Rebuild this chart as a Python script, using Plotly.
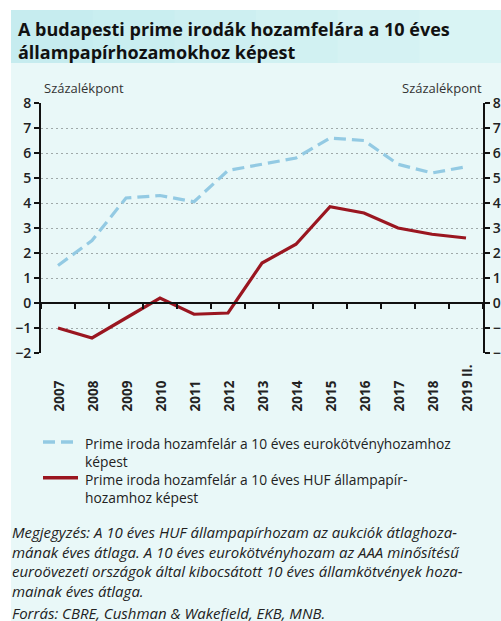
import plotly.graph_objects as go

years = ["2007", "2008", "2009", "2010", "2011", "2012", "2013", "2014",
         "2015", "2016", "2017", "2018", "2019 II."]
euro_spread = [1.5, 2.5, 4.2, 4.3, 4.05, 5.3, 5.55, 5.8, 6.6, 6.5, 5.55, 5.2, 5.45]
huf_spread = [-1.0, -1.4, -0.6, 0.2, -0.45, -0.4, 1.6, 2.35, 3.85, 3.6, 3.0, 2.75, 2.6]

y_ticks = [-2, -1, 0, 1, 2, 3, 4, 5, 6, 7, 8]
y_range = [-2, 8]

title_text = "A budapesti prime irodák hozamfelára a 10 éves<br>állampapírhozamokhoz képest"
axis_unit = "Százalékpont"
legend_euro = "Prime iroda hozamfelár a 10 éves eurokötvényhozamhoz<br>képest"
legend_huf = "Prime iroda hozamfelár a 10 éves HUF állampapír-<br>hozamhoz képest"
note_text = ("Megjegyzés: A 10 éves HUF állampapírhozam az aukciók átlaghoza-<br>"
             "mának éves átlaga. A 10 éves eurokötvényhozam az AAA minősítésű<br>"
             "euroövezeti országok által kibocsátott 10 éves államkötvények hoza-<br>"
             "mainak éves átlaga.")
source_line = "Forrás: CBRE, Cushman & Wakefield, EKB, MNB."

W, H = 501, 621
L, R, T, B = 41, 18, 103, 268
PW, PH = W - L - R, H - T - B

def px_x(px):
    return (px - L) / PW

def px_y(py):
    return (H - B - py) / PH

FONT = "Open Sans"
BG = "#e9f8f8"
EURO_COLOR = "#93cae3"
HUF_COLOR = "#9a1620"
EURO_DASH = "12px,6px"
LEG_SIZE = 13.8
LEG_LINE = LEG_SIZE * 1.3

fig = go.Figure()
fig.add_trace(go.Scatter(
    x=years, y=euro_spread, mode="lines", name=legend_euro.replace("<br>", " "),
    line=dict(color=EURO_COLOR, width=3.2, dash=EURO_DASH), showlegend=False,
))
fig.add_trace(go.Scatter(
    x=years, y=huf_spread, mode="lines", name=legend_huf.replace("<br>", " "),
    line=dict(color=HUF_COLOR, width=3.2), showlegend=False,
))
# invisible copy on the right axis so that it is drawn
fig.add_trace(go.Scatter(
    x=years, y=huf_spread, mode="lines", yaxis="y2", showlegend=False,
    hoverinfo="skip", line=dict(color="rgba(0,0,0,0)", width=0),
))

shapes = [
    dict(type="rect", xref="paper", yref="paper", layer="below",
         x0=px_x(11), x1=px_x(W + 5), y0=px_y(H + 5), y1=px_y(10),
         fillcolor=BG, line=dict(width=0)),
]
band_cols = ["#c6ecef", "#c9eef0", "#cdeff1", "#d1f1f2", "#d5f2f3", "#d9f4f4"]
n = len(band_cols)
for i, c in enumerate(band_cols):
    x0 = 11 + (W - 11) * i / n
    x1 = 11 + (W - 11) * (i + 1) / n + 1
    shapes.append(dict(type="rect", xref="paper", yref="paper", layer="below",
                       x0=px_x(x0), x1=px_x(x1), y0=px_y(63), y1=px_y(10),
                       fillcolor=c, line=dict(width=0)))

annotations = []
# title
annotations.append(dict(x=px_x(16), y=px_y(15), xref="paper", yref="paper",
                        text="<b>%s</b>" % title_text, showarrow=False, align="left",
                        xanchor="left", yanchor="top",
                        font=dict(family=FONT, size=18, color="#111111")))

# legend: one text block, sample lines beside the first line of each entry
leg_top = 432
first_line = leg_top + LEG_LINE / 2 + 1
for k, (col, dash) in enumerate([(EURO_COLOR, EURO_DASH), (HUF_COLOR, "solid")]):
    yy = first_line + 2 * k * LEG_LINE
    shapes.append(dict(type="line", xref="paper", yref="paper",
                       x0=px_x(43), x1=px_x(78), y0=px_y(yy), y1=px_y(yy),
                       line=dict(color=col, width=3.5, dash=dash)))
annotations.append(dict(x=px_x(83), y=px_y(leg_top), xref="paper", yref="paper",
                        text=legend_euro + "<br>" + legend_huf, showarrow=False,
                        align="left", xanchor="left", yanchor="top",
                        font=dict(family=FONT, size=LEG_SIZE, color="#222222")))

for i, yr in enumerate(years):
    annotations.append(dict(
        x=i, xref="x", y=px_y(414), yref="paper", text="<b>%s</b>" % yr,
        textangle=-90, showarrow=False, xanchor="center", yanchor="bottom",
        font=dict(family=FONT, size=13.5, color="#222222"),
    ))
annotations.append(dict(x=px_x(42), y=px_y(88), xref="paper", yref="paper",
                        text=axis_unit, showarrow=False, xanchor="left", yanchor="middle",
                        font=dict(family=FONT, size=13, color="#333333")))
annotations.append(dict(x=px_x(484), y=px_y(88), xref="paper", yref="paper",
                        text=axis_unit, showarrow=False, xanchor="right", yanchor="middle",
                        font=dict(family=FONT, size=13, color="#333333")))
annotations.append(dict(x=px_x(10), y=px_y(520), xref="paper", yref="paper",
                        text="<i>%s</i>" % note_text, showarrow=False, align="left",
                        xanchor="left", yanchor="top",
                        font=dict(family=FONT, size=15, color="#222222")))
annotations.append(dict(x=px_x(10), y=px_y(613), xref="paper", yref="paper",
                        text="<i>%s</i>" % source_line, showarrow=False,
                        xanchor="left", yanchor="middle",
                        font=dict(family=FONT, size=15, color="#222222")))

zero_pos = (0 - y_range[0]) / (y_range[1] - y_range[0])

yaxis_common = dict(
    range=y_range, tickvals=y_ticks, showline=True, linecolor="#111111", linewidth=2,
    ticks="outside", ticklen=5, tickwidth=2, tickcolor="#111111",
    tickfont=dict(family=FONT, size=14, color="#222222", weight=600),
    zeroline=False, fixedrange=True, automargin=False,
)

fig.update_layout(
    width=W, height=H,
    margin=dict(l=L, r=R, t=T, b=B, pad=0, autoexpand=False),
    paper_bgcolor="white",
    plot_bgcolor="rgba(0,0,0,0)",
    font=dict(family=FONT, size=13, color="#222222"),
    xaxis=dict(
        type="category", anchor="free", position=zero_pos,
        showline=True, linecolor="#111111", linewidth=2,
        ticks="outside", ticklen=5, tickwidth=2, tickcolor="#111111",
        tickson="boundaries", showticklabels=False, showgrid=False,
        range=[-0.5, len(years) - 0.5], automargin=False, fixedrange=True,
    ),
    yaxis=dict(**yaxis_common, showgrid=True, gridcolor="#9fa9a9",
               griddash="2px,3px", gridwidth=1),
    yaxis2=dict(**yaxis_common, overlaying="y", side="right", showgrid=False),
    shapes=shapes,
    annotations=annotations,
    showlegend=False,
)

fig.write_html("out.html", config={"displayModeBar": False},
               post_script="document.body.style.margin='0px';")
